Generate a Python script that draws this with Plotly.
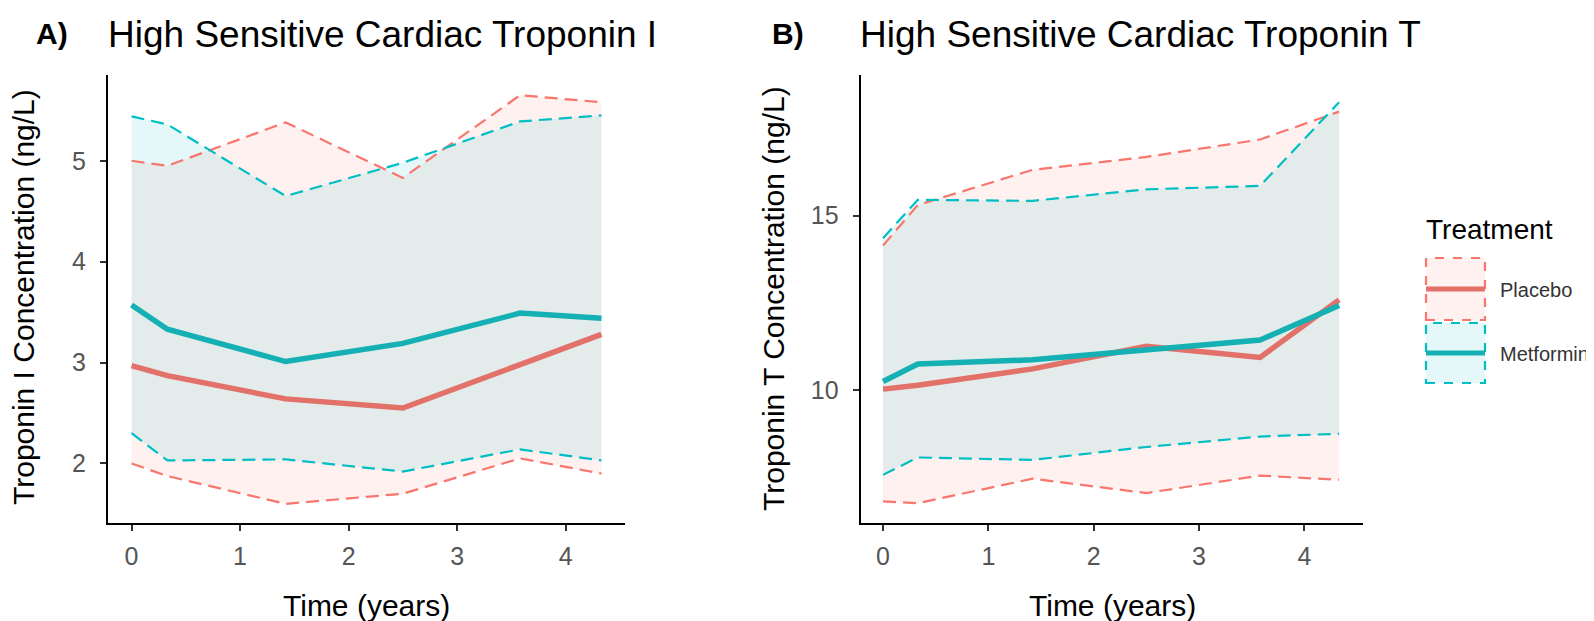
import plotly.graph_objects as go

# ---------------- data ----------------
time_years = [0, 0.33, 1.42, 2.5, 3.58, 4.33]
treatments = ["Placebo", "Metformin"]

# Panel A: hs cardiac troponin I (ng/L)
A_placebo_mean = [2.97, 2.87, 2.64, 2.55, 2.98, 3.28]
A_placebo_lo = [2.00, 1.875, 1.60, 1.70, 2.05, 1.90]
A_placebo_hi = [5.00, 4.95, 5.38, 4.83, 5.65, 5.58]
A_metformin_mean = [3.57, 3.33, 3.01, 3.19, 3.49, 3.44]
A_metformin_lo = [2.30, 2.03, 2.04, 1.92, 2.14, 2.03]
A_metformin_hi = [5.44, 5.36, 4.65, 4.98, 5.39, 5.45]

# Panel B: hs cardiac troponin T (ng/L)
B_placebo_mean = [10.02, 10.13, 10.60, 11.25, 10.93, 12.58]
B_placebo_lo = [6.80, 6.75, 7.45, 7.04, 7.54, 7.42]
B_placebo_hi = [14.14, 15.30, 16.31, 16.68, 17.18, 17.98]
B_metformin_mean = [10.24, 10.74, 10.86, 11.13, 11.43, 12.42]
B_metformin_lo = [7.56, 8.06, 7.99, 8.36, 8.66, 8.74]
B_metformin_hi = [14.35, 15.45, 15.42, 15.75, 15.85, 18.25]

x_ticks = [0, 1, 2, 3, 4]
A_y_ticks = [2, 3, 4, 5]
B_y_ticks = [10, 15]

# ---------------- styling ----------------
W, H = 1594, 621
FONT = "Liberation Sans, Arial, sans-serif"
col_line = {"Placebo": "#F8766D", "Metformin": "#00BFC4"}
col_mean = {"Placebo": "#E2716A", "Metformin": "#14B0B3"}
col_fill = {"Placebo": "rgba(248,118,109,0.10)", "Metformin": "rgba(0,191,196,0.10)"}
DASH = "13px,7px"


def px(x):
    return x / W


def py(y):
    return 1 - y / H


fig = go.Figure()

panels = [
    ("x", "y", {
        "Placebo": (A_placebo_mean, A_placebo_lo, A_placebo_hi),
        "Metformin": (A_metformin_mean, A_metformin_lo, A_metformin_hi)}),
    ("x2", "y2", {
        "Placebo": (B_placebo_mean, B_placebo_lo, B_placebo_hi),
        "Metformin": (B_metformin_mean, B_metformin_lo, B_metformin_hi)}),
]

for xa, ya, d in panels:
    # ribbons
    for t in treatments:
        mean, lo, hi = d[t]
        fig.add_trace(go.Scatter(
            x=time_years + time_years[::-1], y=lo + hi[::-1], xaxis=xa, yaxis=ya,
            fill="toself", fillcolor=col_fill[t], line=dict(width=0),
            mode="lines", hoverinfo="skip", showlegend=False))
    # ribbon borders (dashed)
    for t in treatments:
        mean, lo, hi = d[t]
        for series in (lo, hi):
            fig.add_trace(go.Scatter(
                x=time_years, y=series, xaxis=xa, yaxis=ya, mode="lines",
                line=dict(color=col_line[t], width=2.2, dash=DASH),
                showlegend=False))
    # means
    for t in treatments:
        mean, lo, hi = d[t]
        fig.add_trace(go.Scatter(
            x=time_years, y=mean, xaxis=xa, yaxis=ya, mode="lines",
            line=dict(color=col_mean[t], width=5.5), name=t, showlegend=False))

axis_common = dict(
    showline=True, linecolor="black", linewidth=2.2, showgrid=False, zeroline=False,
    ticks="outside", ticklen=6, tickwidth=2, tickcolor="#333333",
    tickfont=dict(family=FONT, size=25, color="#555555"),
)
xaxis_style = dict(axis_common, ticklabelstandoff=4)
yaxis_style = dict(axis_common, ticklabelstandoff=9)

ydom = [py(515), py(67)]
fig.update_layout(
    width=W, height=H, margin=dict(l=0, r=0, t=0, b=0),
    paper_bgcolor="white", plot_bgcolor="white", showlegend=False,
    font=dict(family=FONT),
    xaxis=dict(domain=[px(100), px(617)], range=[-0.217, 4.547], tickvals=x_ticks,
               anchor="y", **xaxis_style),
    yaxis=dict(domain=ydom, range=[1.41, 5.85], tickvals=A_y_ticks, anchor="x",
               **yaxis_style),
    xaxis2=dict(domain=[px(852.7), px(1355)], range=[-0.212, 4.557], tickvals=x_ticks,
                anchor="y2", **xaxis_style),
    yaxis2=dict(domain=ydom, range=[6.18, 19.03], tickvals=B_y_ticks, anchor="x2",
                **yaxis_style),
)

ann = []


def text(s, x, y, size, xanchor="left", angle=0, color="black"):
    ann.append(dict(text=s, x=px(x), y=py(y), xref="paper", yref="paper",
                    xanchor=xanchor, yanchor="middle", showarrow=False,
                    textangle=angle, font=dict(family=FONT, size=size, color=color)))


# panel letters and titles
text("<b>A)</b>", 26, 26, 30)
text("High Sensitive Cardiac Troponin I", 98, 27, 37)
text("<b>B)</b>", 762, 26, 30)
text("High Sensitive Cardiac Troponin T", 850, 27, 37)
# axis titles
text("Troponin I Concentration (ng/L)", 15, 289, 30, xanchor="center", angle=-90)
text("Troponin T Concentration (ng/L)", 765, 291, 30, xanchor="center", angle=-90)
text("Time (years)", 358.5, 597, 30, xanchor="center")
text("Time (years)", 1104, 597, 30, xanchor="center")
# legend
text("Treatment", 1416, 221, 28)
legend_rows = [("Placebo", 250, 312), ("Metformin", 315, 375)]
shapes = []
for t, y0, y1 in legend_rows:
    shapes.append(dict(type="rect", xref="paper", yref="paper",
                       x0=px(1418), x1=px(1477), y0=py(y1), y1=py(y0),
                       fillcolor=col_fill[t], line=dict(color=col_line[t], width=2.2, dash="dash")))
    ym = (y0 + y1) / 2
    shapes.append(dict(type="line", xref="paper", yref="paper",
                       x0=px(1418), x1=px(1477), y0=py(ym), y1=py(ym),
                       line=dict(color=col_mean[t], width=5)))
    text(t, 1490, ym + 1, 20, color="#333333")

fig.update_layout(annotations=ann, shapes=shapes)
fig.write_html("out.html")
